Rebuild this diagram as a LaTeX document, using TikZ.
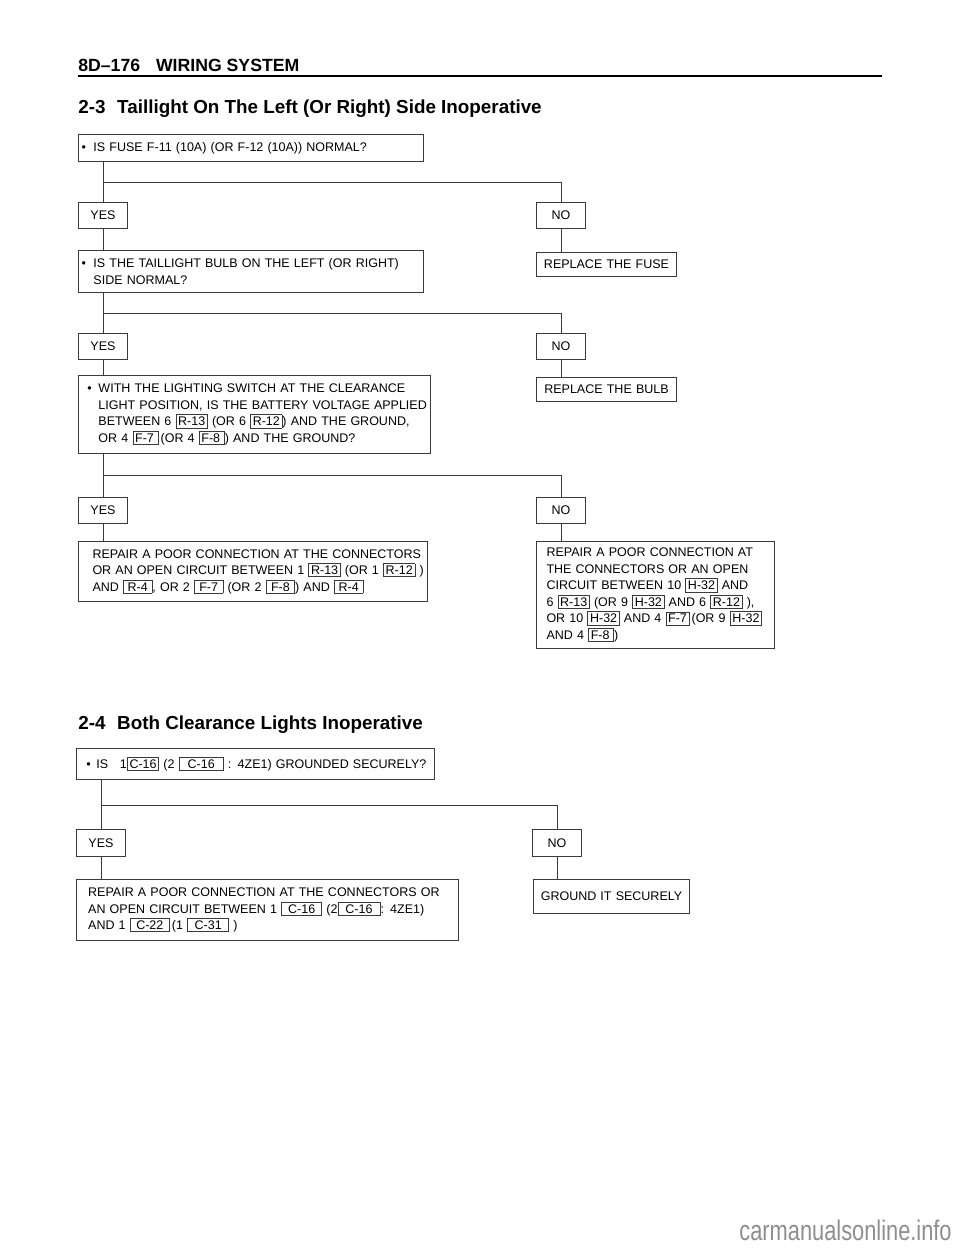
\documentclass[tikz,border=0pt]{standalone}
\usepackage{fontspec}
\setmainfont{Liberation Sans}
\usepackage{xcolor}
\usepackage{graphicx}

\definecolor{linegray}{HTML}{3A3A3A}
\definecolor{markgray}{HTML}{8E8E8E}

\newcommand{\boxfont}{\fontsize{7.5}{9.9}\selectfont}
\newcommand{\lpad}[1]{\leftskip=#1\relax}
\newcommand{\bul}[1][4.5pt]{\leavevmode\llap{\textbullet\hspace{#1}}}
\newcommand{\conn}[2][\width]{{\setlength{\fboxsep}{1.1pt}\setlength{\fboxrule}{0.45pt}\fcolorbox{linegray}{white}{\makebox[#1]{#2}}}}

\tikzset{
	qbox/.style={draw=linegray, line width=0.6pt, anchor=north west, inner sep=0pt, align=left, font=\boxfont},
	ansbox/.style={qbox, align=center, text width=29.4pt, minimum height=15.6pt},
	wire/.style={draw=linegray, line width=0.6pt}
}

\begin{document}
\begin{tikzpicture}[x=0.6pt, y=-0.6pt]
	\useasboundingbox (0,0) rectangle (960,1250);

	% Page head
	\node[anchor=base west, inner sep=0pt, font=\fontsize{10.6}{12}\selectfont\bfseries] (head) at (78,71) {8D--176\hspace{9.5pt}WIRING SYSTEM};
	\draw[black, line width=1.2pt] (78,75.5) -- (882,75.5);

	% 2-3
	\node[anchor=base west, inner sep=0pt, font=\fontsize{11.3}{13}\selectfont\bfseries] (title1) at (78,113) {2-3\hspace{7pt}Taillight On The Left (Or Right) Side Inoperative};

	\node[qbox, text width=207pt, minimum height=16.2pt] (fusecheck) at (78,134) {\lpad{9pt}\bul IS FUSE F-11 (10A) (OR F-12 (10A)) NORMAL?\par};
	\coordinate (split1) at (0,182);
	\node[ansbox] (yes1) at (78,202) {YES};
	\node[ansbox] (no1) at (536,202) {NO};
	\node[qbox, text width=207pt, minimum height=25.2pt] (bulbcheck) at (78,250) {\lpad{9pt}\bul IS THE TAILLIGHT BULB ON THE LEFT (OR RIGHT)\\SIDE NORMAL?\par};
	\node[qbox, align=center, text width=84pt, minimum height=14.4pt] (replfuse) at (536,252) {REPLACE THE FUSE};

	\coordinate (split2) at (0,313);
	\node[ansbox] (yes2) at (78,333) {YES};
	\node[ansbox] (no2) at (536,333) {NO};
	\node[qbox, text width=211.2pt, minimum height=46.8pt] (voltcheck) at (78,375) {\lpad{12pt}\bul[4pt]WITH THE LIGHTING SWITCH AT THE CLEARANCE\\
		LIGHT POSITION, IS THE BATTERY VOLTAGE APPLIED\\
		BETWEEN 6 \conn{R-13} (OR 6 \conn{R-12}) AND THE GROUND,\\
		OR 4 \conn{F-7\,}\,(OR 4 \conn{F-8\,}) AND THE GROUND?\par};
	\node[qbox, align=center, text width=84pt, minimum height=14.4pt] (replbulb) at (536,377) {REPLACE THE BULB};

	\coordinate (split3) at (0,475);
	\node[ansbox] (yes3) at (78,497) {YES};
	\node[ansbox] (no3) at (536,497) {NO};
	\node[qbox, text width=209.4pt, minimum height=36pt] (repairL) at (78,541) {\lpad{8.4pt}REPAIR A POOR CONNECTION AT THE CONNECTORS\\
		OR AN OPEN CIRCUIT BETWEEN 1 \conn{R-13} (OR 1 \conn{R-12} )\\
		AND \conn[14.5pt]{R-4}, OR 2 \conn[14.5pt]{F-7} (OR 2 \conn[14.5pt]{F-8}) AND \conn[14.5pt]{R-4}\par};
	\node[qbox, text width=142.8pt, minimum height=64.2pt] (repairR) at (536,541) {\lpad{6pt}REPAIR A POOR CONNECTION AT\\
		THE CONNECTORS OR AN OPEN\\
		CIRCUIT BETWEEN 10 \conn{H-32} AND\\
		6 \conn{R-13} (OR 9 \conn{H-32} AND 6 \conn{R-12} ),\\
		OR 10 \conn{H-32} AND 4 \conn{F-7}\,(OR 9 \conn{H-32}\\
		AND 4 \conn{F-8\,})\par};

	\draw[wire] (fusecheck.south -| yes1.north) -- (yes1.north);
	\draw[wire] (yes1.north |- split1) -| (no1.north);
	\draw[wire] (yes1.south) -- (yes1.south |- bulbcheck.north);
	\draw[wire] (no1.south) -- (no1.south |- replfuse.north);
	\draw[wire] (bulbcheck.south -| yes2.north) -- (yes2.north);
	\draw[wire] (yes2.north |- split2) -| (no2.north);
	\draw[wire] (yes2.south) -- (yes2.south |- voltcheck.north);
	\draw[wire] (no2.south) -- (no2.south |- replbulb.north);
	\draw[wire] (voltcheck.south -| yes3.north) -- (yes3.north);
	\draw[wire] (yes3.north |- split3) -| (no3.north);
	\draw[wire] (yes3.south) -- (yes3.south |- repairL.north);
	\draw[wire] (no3.south) -- (no3.south |- repairR.north);

	% 2-4
	\node[anchor=base west, inner sep=0pt, font=\fontsize{11.3}{13}\selectfont\bfseries] (title2) at (78,729) {2-4\hspace{7pt}Both Clearance Lights Inoperative};

	\node[qbox, text width=214.8pt, minimum height=18.6pt] (gndcheck) at (76,748) {\lpad{12pt}\bul[3.5pt]IS\hspace{7pt}1\conn{C-16} (2 \conn[24pt]{C-16} : 4ZE1) GROUNDED SECURELY?\par};
	\coordinate (split4) at (0,805);
	\node[ansbox, minimum height=16.2pt] (yes4) at (76,829) {YES};
	\node[ansbox, minimum height=16.2pt] (no4) at (532,829) {NO};
	\node[qbox, text width=229.2pt, minimum height=36.6pt] (repairC) at (76,879) {\lpad{7pt}REPAIR A POOR CONNECTION AT THE CONNECTORS OR\\
		AN OPEN CIRCUIT BETWEEN 1 \conn[21.5pt]{C-16} (2\conn[22.7pt]{C-16}: 4ZE1)\\
		AND 1 \conn[20.9pt]{C-22}\,(1 \conn[22.1pt]{C-31} )\par};
	\node[qbox, align=center, text width=93.6pt, minimum height=20.4pt] (gndfix) at (533,879) {GROUND IT SECURELY};

	\draw[wire] (gndcheck.south -| yes4.north) -- (yes4.north);
	\draw[wire] (yes4.north |- split4) -| (no4.north);
	\draw[wire] (yes4.south) -- (yes4.south |- repairC.north);
	\draw[wire] (no4.south) -- (no4.south |- gndfix.north);

	\node[anchor=base east, inner sep=0pt, text=markgray, font=\fontsize{17}{19}\selectfont] (mark) at (952,1240) {\scalebox{0.77}[1]{carmanualsonline.info}};
\end{tikzpicture}
\end{document}
